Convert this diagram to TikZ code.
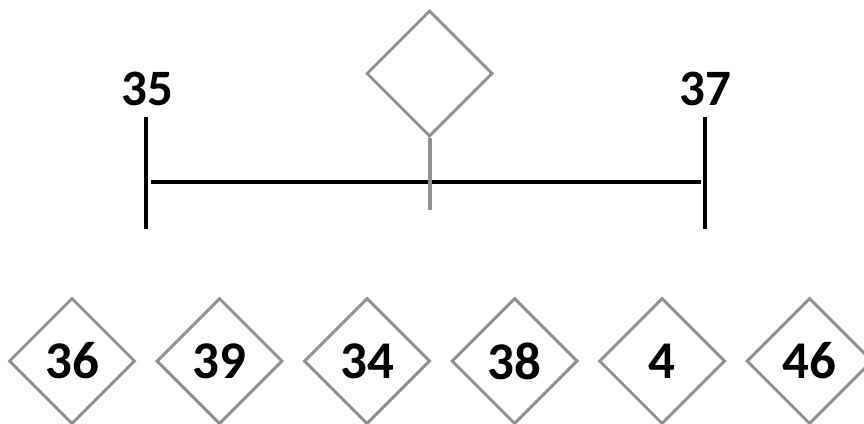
\documentclass[tikz,border=0pt]{standalone}
\usepackage{fontspec}
\setmainfont{Carlito}
\usetikzlibrary{shapes.geometric}
\definecolor{dgray}{RGB}{145,145,145}
\tikzset{
  dia/.style={draw=dgray, line width=3pt, shape=diamond, aspect=1, minimum width=126pt, minimum height=126pt, inner sep=0pt, font=\fontsize{53}{53}\selectfont\bfseries},
  lbl/.style={inner sep=0pt, font=\fontsize{51}{51}\selectfont\bfseries},
  blk/.style={line width=4pt, black},
  gtick/.style={line width=4pt, dgray}
}
\begin{document}
\begin{tikzpicture}[x=1pt,y=-1pt]
\useasboundingbox (0,0) rectangle (864,423);
\node[dia] (top) at (429.5,73.5) {};
\node[lbl] (l35) at (147,88.5) {35};
\node[lbl] (l37) at (705,88.5) {37};
\coordinate (lt1) at (146,117);
\coordinate (lt2) at (146,229);
\coordinate (rt1) at (705,117);
\coordinate (rt2) at (705,229);
\coordinate (h1) at (151,182);
\coordinate (h2) at (701,182);
\coordinate (mb) at (429.5,210);
\draw[blk] (lt1) -- (lt2);
\draw[blk] (rt1) -- (rt2);
\draw[blk] (h1) -- (h2);
\draw[gtick] (top.south) -- (mb);
\node[dia] (d1) at (72,361) {36};
\node[dia] (d2) at (219.5,361) {39};
\node[dia] (d3) at (367,361) {34};
\node[dia] (d4) at (514.5,361) {38};
\node[dia] (d5) at (662,361) {4};
\node[dia] (d6) at (809.5,361) {46};
\end{tikzpicture}
\end{document}
